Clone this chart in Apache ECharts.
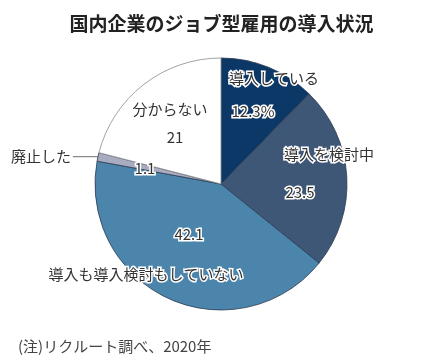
<!DOCTYPE html>
<html>
<head>
<meta charset="utf-8">
<script src="https://cdn.jsdelivr.net/npm/echarts@6/dist/echarts.min.js"></script>
<style>
html,body{margin:0;padding:0;background:#fff;}
#chart{width:443px;height:359px;}
</style>
</head>
<body>
<div id="chart"></div>
<script>
const categories = ['導入している', '導入を検討中', '導入も導入検討もしていない', '廃止した', '分からない'];
const values = [12.3, 23.5, 42.1, 1.1, 21];
const valueLabels = ['12.3%', '23.5', '42.1', '1.1', '21'];

const sliceColors = ['#0c3868', '#3e5777', '#4b85ac', '#a9acc0', '#ffffff'];
const sliceBorders = ['#2a3a50', '#2a3a50', '#2a3a50', '#2a3a50', '#8a8a8a'];

// label anchor points (label layout only)
const namePos = [[274, 78], [329, 154], [146, 274], null, [170, 109]];
const valuePos = [[253, 111], [300, 192], [189, 234], [145, 168], [175, 137]];

const font = '"Noto Sans CJK JP", "Noto Sans", sans-serif';
const baseLabel = {
  fontFamily: font, fontSize: 15, color: '#333',
  textBorderColor: '#fff', textBorderWidth: 3
};

const chart = echarts.init(document.getElementById('chart'), null, {renderer: 'canvas'});

const nameData = categories.map((c, i) => {
  const d = {
    name: c, value: values[i],
    itemStyle: {color: sliceColors[i], borderColor: sliceBorders[i], borderWidth: 0.8}
  };
  if (i === 3) {
    d.label = {position: 'outside', distanceToLabelLine: 2};
    d.labelLine = {show: true, length: 1, length2: 24, lineStyle: {color: '#8a8a8a', width: 1.2}};
  }
  return d;
});
const valueData = categories.map((c, i) => ({name: c, value: values[i]}));

function layoutFrom(table) {
  return function (p) {
    const q = table[p.dataIndex];
    if (!q) return {};
    return {x: q[0], y: q[1], align: 'center', verticalAlign: 'middle'};
  };
}

chart.setOption({
  animation: false,
  backgroundColor: '#fff',
  title: [
    {
      text: '国内企業のジョブ型雇用の導入状況', left: 'center', top: 9,
      textStyle: {fontFamily: font, fontSize: 19, fontWeight: 'bold', color: '#222'}
    },
    {
      text: '(注)リクルート調べ、2020年', left: 13, top: 334,
      textStyle: {fontFamily: font, fontSize: 15, fontWeight: 'normal', color: '#444'}
    }
  ],
  series: [
    {
      type: 'pie', center: [221, 184], radius: 126, startAngle: 90, clockwise: true,
      avoidLabelOverlap: false, silent: true,
      label: Object.assign({show: true, position: 'inside', formatter: '{b}'}, baseLabel),
      labelLine: {show: false},
      labelLayout: layoutFrom(namePos),
      data: nameData
    },
    {
      type: 'pie', center: [221, 184], radius: 126, startAngle: 90, clockwise: true,
      avoidLabelOverlap: false, silent: true,
      itemStyle: {color: 'rgba(0,0,0,0)', borderWidth: 0},
      label: Object.assign({
        show: true, position: 'inside',
        formatter: p => valueLabels[p.dataIndex]
      }, baseLabel),
      labelLine: {show: false},
      labelLayout: layoutFrom(valuePos),
      data: valueData
    }
  ]
});
</script>
</body>
</html>
